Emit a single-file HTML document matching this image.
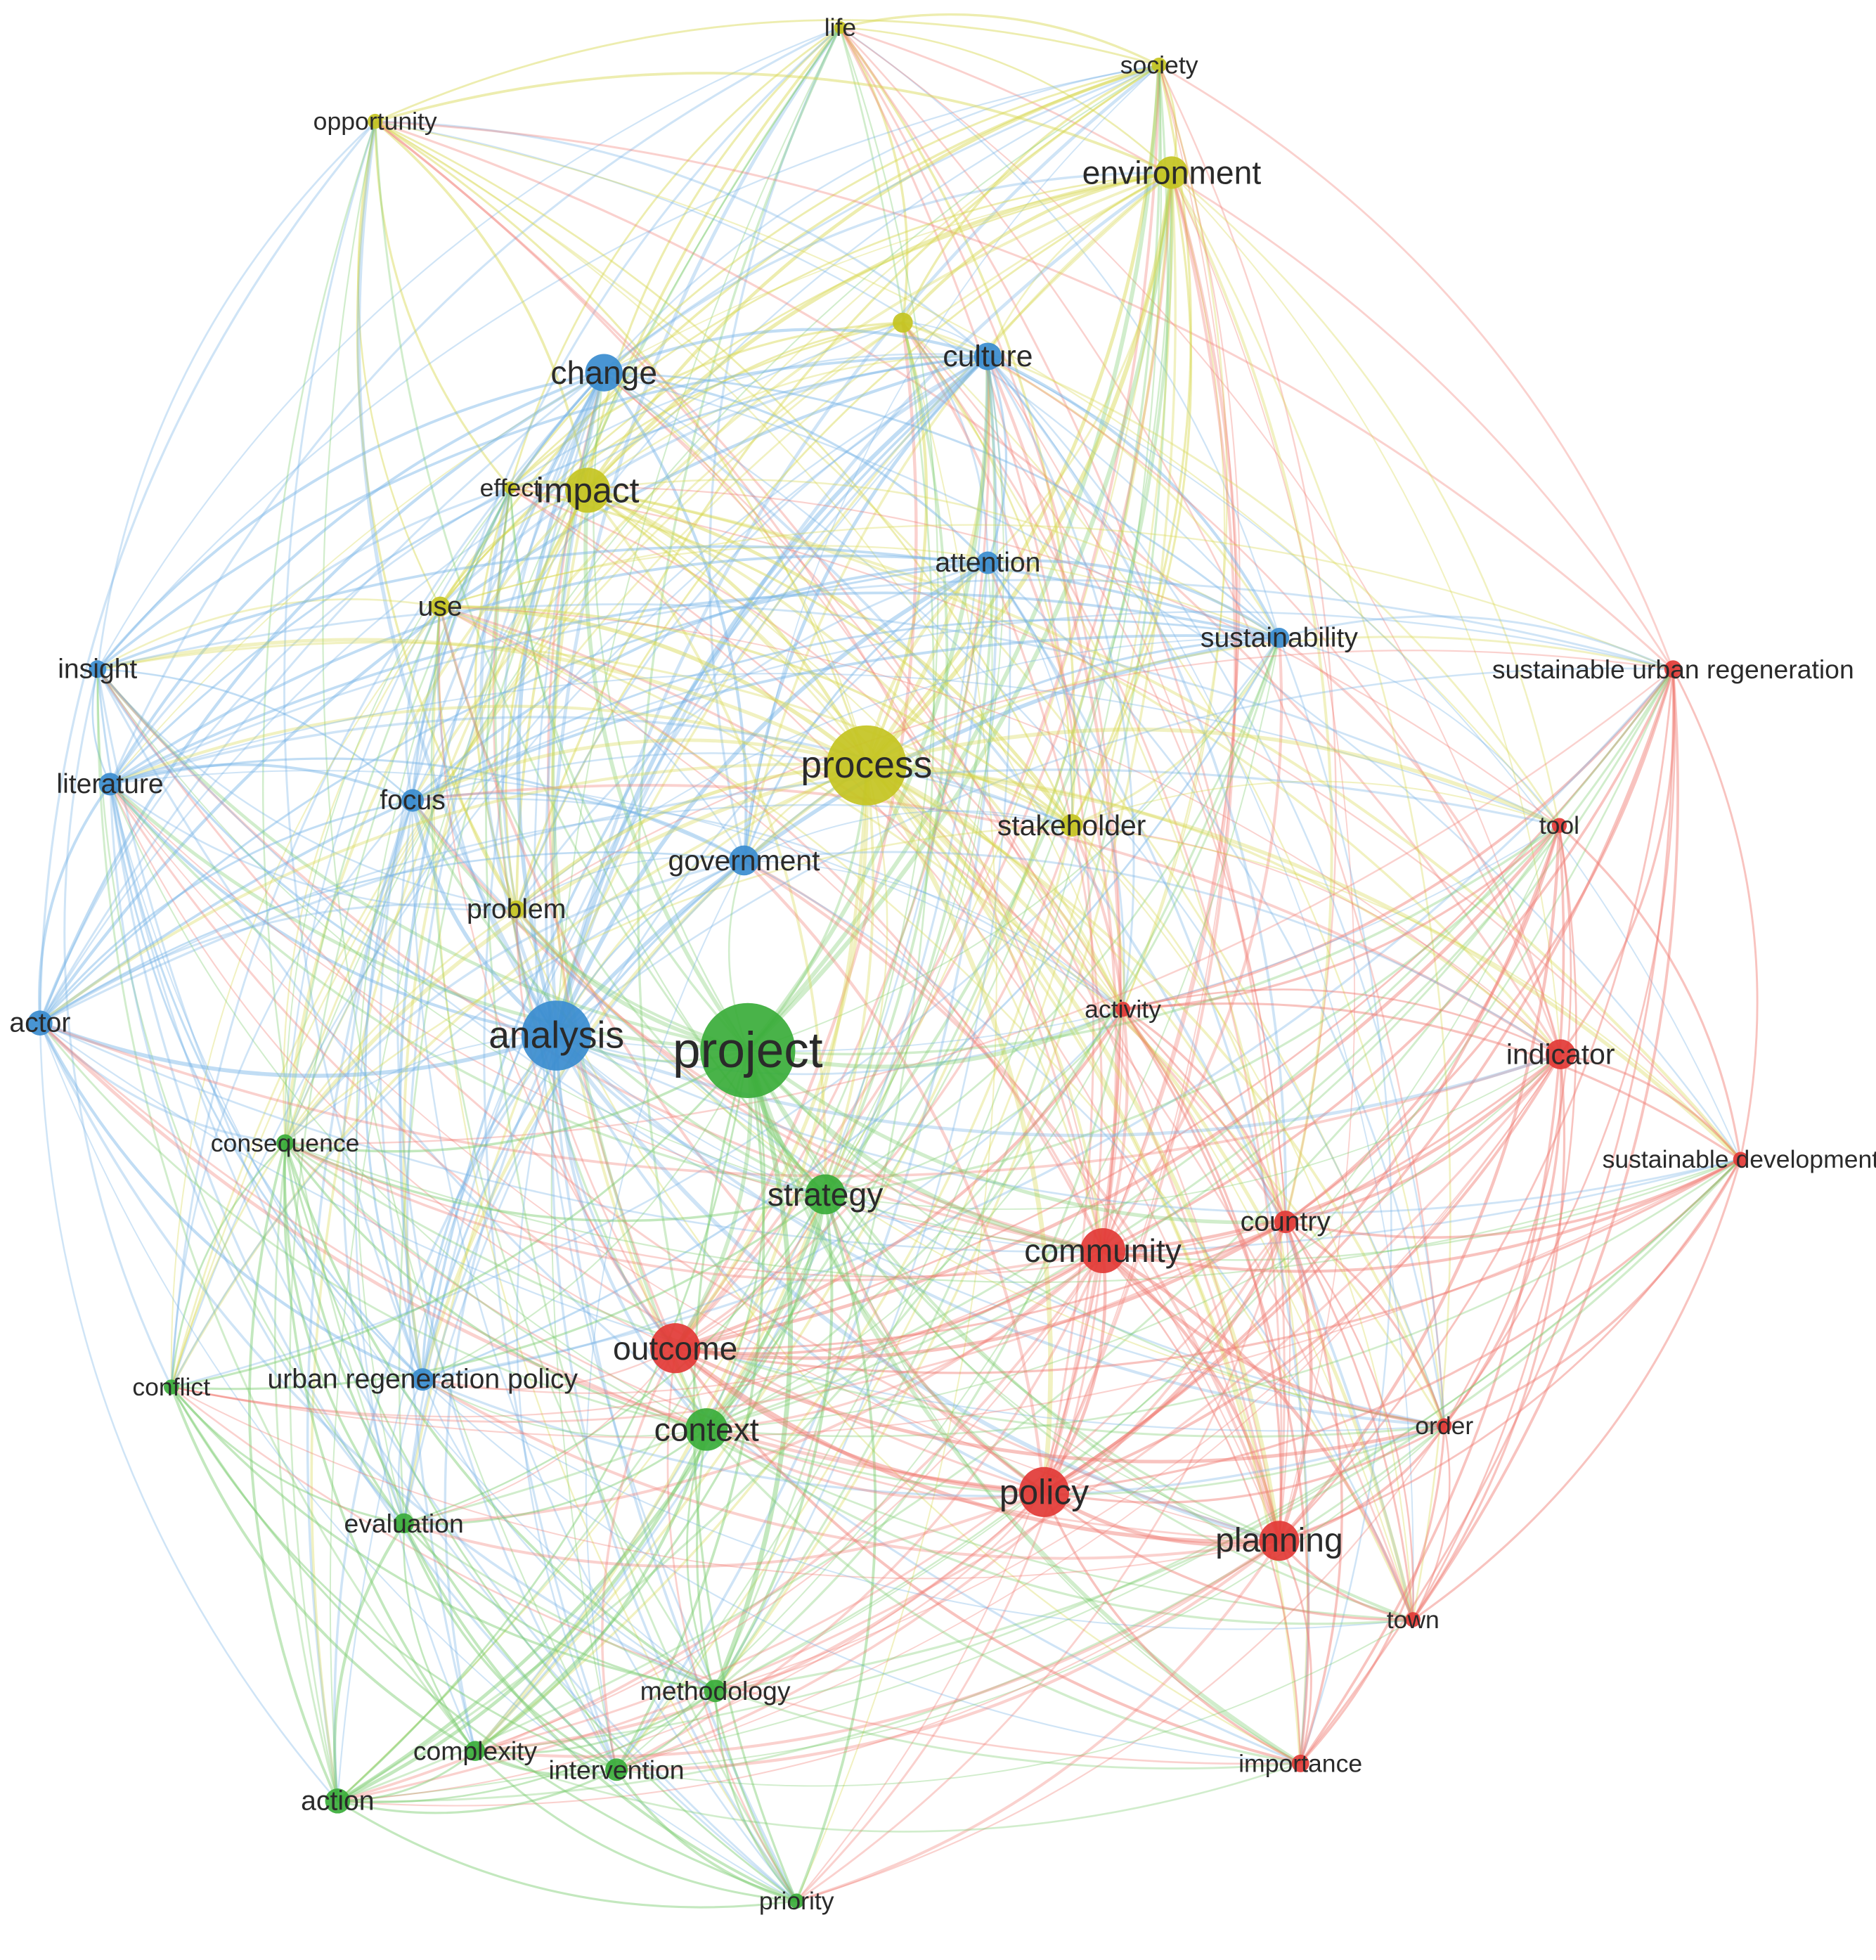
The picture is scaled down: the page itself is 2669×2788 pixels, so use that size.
<!DOCTYPE html>
<html><head><meta charset="utf-8">
<style>
html,body{margin:0;padding:0;background:#fff;}
svg{display:block;}
text{font-family:"Liberation Sans Narrow","Liberation Sans",sans-serif;fill:#2a2a2a;text-anchor:middle;dominant-baseline:central;}
</style></head>
<body>
<svg id="s" width="2669" height="2788" viewBox="0 0 2669 2788" xmlns="http://www.w3.org/2000/svg">
<rect width="2669" height="2788" fill="#fff"/>
<g id="e"></g><g id="n"></g><g id="t"></g>
</svg>
<script>
var K=1.779;
var C={Y:"#c4c422",B:"#3a8ccf",G:"#3aad3a",R:"#e23a36"};
var L={Y:"#d6d64e",B:"#76b3e6",G:"#7acc6e",R:"#f07a72"};
var N=[
["life",672,22,"Y",5,20],["society",927,52,"Y",6,20],["opportunity",300,97,"Y",6,20],
["environment",937,138,"Y",13,26],["",722,258,"Y",8,0],["change",483,298,"B",15,26],
["culture",790,285,"B",11,24],["effect",408,390,"Y",5,20],["impact",470,392,"Y",18,28],
["attention",790,450,"B",9,22],["use",352,485,"Y",8,22],["sustainability",1023,510,"B",8,22],
["insight",78,535,"B",7,22],["sustainable urban regeneration",1338,535,"R",7,21],
["literature",88,627,"B",9,22],["focus",330,640,"B",9,22],["process",693,612,"Y",32,30],
["stakeholder",857,660,"Y",9,23],["tool",1247,660,"R",6,20],["government",595,688,"B",12,23],
["problem",413,727,"Y",7,22],["actor",32,818,"B",10,22],["activity",898,807,"R",6,20],
["analysis",445,828,"B",28,30],["project",598,840,"G",38,40],["indicator",1248,843,"R",12,23],
["consequence",228,914,"G",7,20],["sustainable development",1392,927,"R",6,20],
["strategy",660,955,"G",16,26],["country",1028,977,"R",9,22],["community",882,1000,"R",18,26],
["outcome",540,1078,"R",20,26],["conflict",137,1109,"G",6,20],["urban regeneration policy",338,1103,"B",9,22],
["order",1155,1140,"R",6,20],["context",565,1143,"G",17,26],["policy",835,1193,"R",20,28],
["planning",1023,1232,"R",16,27],["evaluation",323,1218,"G",8,21],["town",1130,1295,"R",6,20],
["methodology",572,1352,"G",9,21],["complexity",380,1400,"G",8,21],["intervention",493,1415,"G",9,21],
["importance",1040,1410,"R",7,20],["action",270,1440,"G",10,22],["priority",637,1520,"G",6,20]
];
var seed=12345;function r(){seed=(seed*16807)%2147483647;return seed/2147483647;}
var E=document.getElementById("e"),G=document.getElementById("n"),T=document.getElementById("t");
var html="";
for(var i=0;i<N.length;i++)for(var j=i+1;j<N.length;j++){
 var a=N[i],b=N[j];
 var w=(a[4]+b[4])/40;
 var same=a[3]==b[3];
 var p=same?0.9:0.3+w*0.4;
 if(r()>p)continue;
 var x1=a[1]*K,y1=a[2]*K,x2=b[1]*K,y2=b[2]*K;
 var mx=(x1+x2)/2,my=(y1+y2)/2,dx=x2-x1,dy=y2-y1;
 var cx=600*K,cy=780*K;
 var px=-dy,py=dx,l=Math.sqrt(px*px+py*py)||1;px/=l;py/=l;
 var sgn=((mx-cx)*px+(my-cy)*py)>0?1:-1;
 var off=Math.sqrt(dx*dx+dy*dy)*0.18*sgn;
 var qx=mx+px*off,qy=my+py*off;
 var col=same?L[a[3]]:L[(a[4]>=b[4]?a:b)[3]];
 var sw=((same?2.5:1.8)+w*4*r()).toFixed(1);
 html+='<path d="M'+x1.toFixed(0)+' '+y1.toFixed(0)+'Q'+qx.toFixed(0)+' '+qy.toFixed(0)+' '+x2.toFixed(0)+' '+y2.toFixed(0)+'" stroke="'+col+'" stroke-width="'+sw+'" fill="none" stroke-opacity="'+(same?0.45:0.35)+'"/>';
}
E.innerHTML=html;
var nh="",th="";
for(var i=0;i<N.length;i++){var a=N[i];
 nh+='<circle cx="'+a[1]*K+'" cy="'+a[2]*K+'" r="'+a[4]*K+'" fill="'+C[a[3]]+'" fill-opacity="0.92"/>';
 if(a[0]){th+='<text x="'+a[1]*K+'" y="'+a[2]*K+'" font-size="'+(a[5]*K)+'">'+a[0]+'</text>';}
}
G.innerHTML=nh;T.innerHTML=th;
</script>
</body></html>
